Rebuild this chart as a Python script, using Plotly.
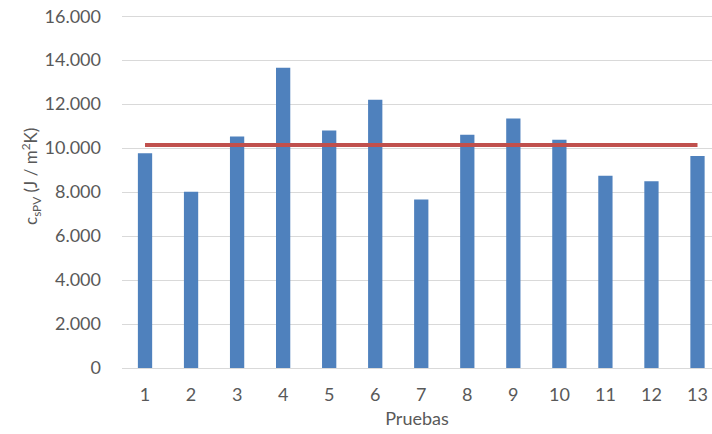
import plotly.graph_objects as go

pruebas = [1, 2, 3, 4, 5, 6, 7, 8, 9, 10, 11, 12, 13]
tick_labels = ["1", "2", "3", "4", "5", "6", "7", "8", "9", "10", "11", "12", "13"]
c_spv = [9770, 8020, 10530, 13660, 10800, 12200, 7660, 10610, 11350, 10380, 8740, 8490, 9640]
promedio = [10140, 10140, 10140, 10140, 10140, 10140, 10140, 10140, 10140, 10140, 10140, 10140, 10140]

font_fam = "Lato, 'Open Sans', sans-serif"
gray = "#595959"

fig = go.Figure()
fig.add_trace(go.Bar(x=pruebas, y=c_spv, marker_color="#4F81BD", width=0.31,
                     marker_line_width=0, showlegend=False))
fig.add_trace(go.Scatter(x=pruebas, y=promedio, mode="lines",
                         line=dict(color="#C0504D", width=4), showlegend=False))

fig.update_layout(
    width=712, height=434,
    margin=dict(l=122, r=0, t=14, b=66),
    plot_bgcolor="white", paper_bgcolor="white",
    separators=",.",
    font=dict(family=font_fam, color=gray, size=18),
    xaxis=dict(
        range=[0.5, 13.315], tickvals=pruebas, ticktext=tick_labels,
        showgrid=False, showline=True, linecolor="#D9D9D9", linewidth=1,
        ticks="", ticklabelstandoff=10, zeroline=False,
        title=dict(text="Pruebas", font=dict(size=18, color=gray), standoff=8),
    ),
    yaxis=dict(
        range=[0, 16100], tickvals=[0, 2000, 4000, 6000, 8000, 10000, 12000, 14000, 16000],
        tickformat=",d",
        showgrid=True, gridcolor="#D9D9D9", gridwidth=1,
        zeroline=False, showline=False, ticks="", ticklabelstandoff=20,
    ),
    annotations=[dict(
        text="c<sub>sPV</sub> (J / m<sup>2</sup>K)", textangle=-90,
        xref="paper", yref="paper", x=-0.154, y=0.54,
        xanchor="center", yanchor="middle", showarrow=False,
        font=dict(size=17, color=gray, family=font_fam),
    )],
)

fig.write_html(
    "out.html",
    config={"displayModeBar": False},
    post_script="document.body.style.margin='0';document.body.style.overflow='hidden';",
)
